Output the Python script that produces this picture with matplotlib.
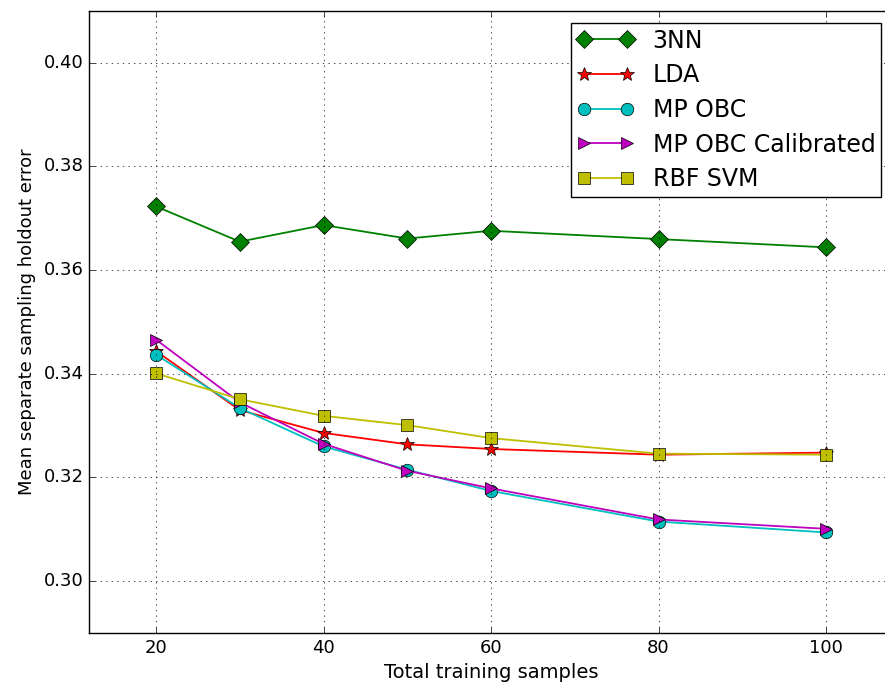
import numpy as np
import matplotlib
matplotlib.use('Agg')
import matplotlib.pyplot as plt

plt.style.use('classic')

# training set sizes
samples = [20, 30, 40, 50, 60, 80, 100]

# mean holdout error per classifier
err_3nn = [0.3723, 0.3655, 0.3687, 0.3661, 0.3676, 0.3660, 0.3644]
err_lda = [0.3444, 0.3330, 0.3286, 0.3264, 0.3255, 0.3244, 0.3248]
err_obc = [0.3437, 0.3334, 0.3260, 0.3215, 0.3174, 0.3115, 0.3094]
err_obc_cal = [0.3466, 0.3345, 0.3265, 0.3213, 0.3179, 0.3119, 0.3101]
err_svm = [0.3401, 0.3351, 0.3319, 0.3301, 0.3276, 0.3246, 0.3244]

fig = plt.figure(figsize=(8.85, 6.83), dpi=100)
# axes runs a bit past the right edge of the figure
ax = fig.add_axes([89 / 885., 50 / 683., 804 / 885., 622 / 683.])

ax.plot(samples, err_3nn, 'gD-', markersize=9, lw=1.3, label='3NN')
ax.plot(samples, err_lda, 'r*-', markersize=10, lw=1.3, label='LDA')
ax.plot(samples, err_obc, 'co-', markersize=9, lw=1.3, label='MP OBC')
ax.plot(samples, err_obc_cal, 'm>-', markersize=9, lw=1.3, label='MP OBC Calibrated')
ax.plot(samples, err_svm, 'ys-', markersize=9, lw=1.3, label='RBF SVM')

ax.set_xlim(12, 108)
ax.set_ylim(0.29, 0.41)
ax.set_xticks([20, 40, 60, 80, 100])
ax.set_yticks([0.30, 0.32, 0.34, 0.36, 0.38, 0.40])
ax.tick_params(labelsize=13)
ax.grid(True)
ax.set_xlabel('Total training samples', fontsize=14)
ax.set_ylabel('Mean separate sampling holdout error', fontsize=13)
ax.legend(loc='upper right', fontsize=17, numpoints=2, handlelength=2.4,
          borderpad=0.25, labelspacing=0.45)

fig.savefig('out.png', dpi=100)
